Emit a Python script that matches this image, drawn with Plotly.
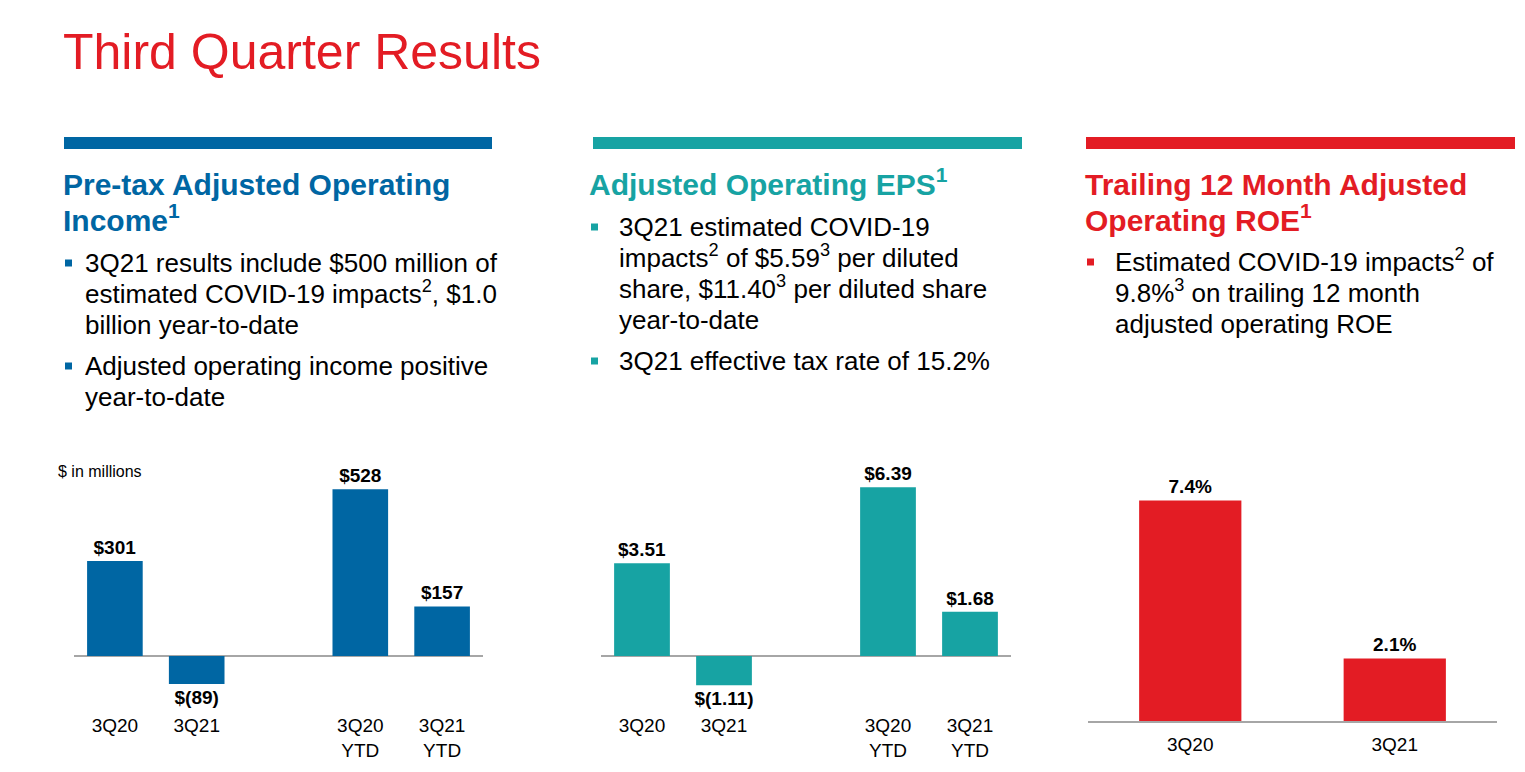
import plotly.graph_objects as go

W, H = 1525, 772
PAGE_MARGIN = 8  # browser body margin around the plot div

BLUE = "#0066a3"
TEAL = "#17a3a3"
RED = "#e31c24"
AXIS_GREY = "#a6a6a6"
FONT = "Liberation Sans, Arial, sans-serif"

# --- data ---
income_slots = ["3Q20", "3Q21", " ", "3Q20<br>YTD", "3Q21<br>YTD"]
income_periods = ["3Q20", "3Q21", "3Q20<br>YTD", "3Q21<br>YTD"]
income_values = [301, -89, 528, 157]
income_labels = ["$301", "$(89)", "$528", "$157"]

eps_periods = ["3Q20", "3Q21", "3Q20<br>YTD", "3Q21<br>YTD"]
eps_values = [3.51, -1.11, 6.39, 1.68]
eps_labels = ["$3.51", "$(1.11)", "$6.39", "$1.68"]

roe_periods = ["3Q20", "3Q21"]
roe_values = [7.4, 2.1]
roe_labels = ["7.4%", "2.1%"]

title_text = "Third Quarter Results"

headings = [
    ["Pre-tax Adjusted Operating", "Income<sup>1</sup>"],
    ["Adjusted Operating EPS<sup>1</sup>"],
    ["Trailing 12 Month Adjusted", "Operating ROE<sup>1</sup>"],
]
bullets = [
    [["3Q21 results include $500 million of",
      "estimated COVID-19 impacts<sup>2</sup>, $1.0",
      "billion year-to-date"],
     ["Adjusted operating income positive",
      "year-to-date"]],
    [["3Q21 estimated COVID-19",
      "impacts<sup>2</sup> of $5.59<sup>3</sup> per diluted",
      "share, $11.40<sup>3</sup> per diluted share",
      "year-to-date"],
     ["3Q21 effective tax rate of 15.2%"]],
    [["Estimated COVID-19 impacts<sup>2</sup> of",
      "9.8%<sup>3</sup> on trailing 12 month",
      "adjusted operating ROE"]],
]


def px(x):
    return (x - PAGE_MARGIN) / W


def py(y):
    return 1 - (y - PAGE_MARGIN) / H


def text_bottom(center, size):
    # anchor on the box bottom so superscripts don't push the line down
    return py(center + 0.56 * size + 2.5)


# panel layout in pixels: rule bar, heading, bullets, chart box
panels = [
    dict(color=BLUE, rule=(64, 492), head_x=64, text_x=85, bullet_y=263,
         chart=(74, 483), top=470, bottom=712, zero=656, scale=0.316),
    dict(color=TEAL, rule=(593, 1022), head_x=590, text_x=619, bullet_y=227,
         chart=(601, 1011), top=470, bottom=712, zero=656, scale=26.4),
    dict(color=RED, rule=(1086, 1515), head_x=1086, text_x=1115, bullet_y=262,
         chart=(1088, 1497), top=470, bottom=721, zero=721, scale=29.8),
]

fig = go.Figure()

series = [
    (income_periods, income_values, income_labels, 0.68),
    (eps_periods, eps_values, eps_labels, 0.68),
    (roe_periods, roe_values, roe_labels, 0.5),
]
for i, (xs, ys, labels, width) in enumerate(series):
    suffix = "" if i == 0 else str(i + 1)
    fig.add_trace(go.Bar(
        x=xs, y=ys, text=labels, width=width,
        marker=dict(color=panels[i]["color"], line=dict(width=0)),
        textposition="outside", cliponaxis=False, constraintext="none",
        textfont=dict(family=FONT, size=19, color="black", weight="bold"),
        hoverinfo="skip", showlegend=False,
        xaxis="x" + suffix, yaxis="y" + suffix,
    ))

layout_axes = {}
for i, p in enumerate(panels):
    suffix = "" if i == 0 else str(i + 1)
    slots = income_slots if i < 2 else roe_periods
    ymin = -(p["bottom"] - p["zero"]) / p["scale"]
    ymax = (p["zero"] - p["top"]) / p["scale"]
    layout_axes["xaxis" + suffix] = dict(
        domain=[px(p["chart"][0]), px(p["chart"][1])],
        anchor="y" + suffix, type="category",
        categoryorder="array", categoryarray=slots,
        range=[-0.5, len(slots) - 0.5],
        showgrid=False, zeroline=False, ticks="",
        showline=(i == 2), linecolor=AXIS_GREY, linewidth=2,
        ticklabelstandoff=5 if i == 2 else 0,
        tickfont=dict(family=FONT, size=19, color="black"),
        fixedrange=True,
    )
    layout_axes["yaxis" + suffix] = dict(
        domain=[py(p["bottom"]), py(p["top"])],
        anchor="x" + suffix, range=[ymin, ymax],
        showgrid=False, showticklabels=False, ticks="",
        zeroline=(i < 2), zerolinecolor=AXIS_GREY, zerolinewidth=2,
        fixedrange=True,
    )

shapes = []
annotations = [dict(
    text=title_text, x=px(61), y=py(52), xref="paper", yref="paper",
    xanchor="left", yanchor="middle", showarrow=False,
    font=dict(family=FONT, size=50, color=RED),
)]

for i, p in enumerate(panels):
    shapes.append(dict(
        type="rect", xref="paper", yref="paper",
        x0=px(p["rule"][0]), x1=px(p["rule"][1]), y0=py(149), y1=py(137),
        fillcolor=p["color"], line=dict(width=0),
    ))
    for j, line in enumerate(headings[i]):
        annotations.append(dict(
            text=line, x=px(p["head_x"] - 3), y=text_bottom(183.5 + 36 * j, 30),
            xref="paper", yref="paper", xanchor="left", yanchor="bottom",
            showarrow=False,
            font=dict(family=FONT, size=30, color=p["color"], weight="bold"),
        ))
    y = p["bullet_y"]
    for para in bullets[i]:
        bx = p["head_x"] + 1
        shapes.append(dict(
            type="rect", xref="paper", yref="paper",
            x0=px(bx), x1=px(bx + 7), y0=py(y + 3.5), y1=py(y - 3.5),
            fillcolor=p["color"], line=dict(width=0),
        ))
        for line in para:
            annotations.append(dict(
                text=line, x=px(p["text_x"] - 2), y=text_bottom(y, 26),
                xref="paper", yref="paper", xanchor="left", yanchor="bottom",
                showarrow=False,
                font=dict(family=FONT, size=26, color="black"),
            ))
            y += 31
        y += 10

annotations.append(dict(
    text="$ in millions", x=px(56), y=py(471), xref="paper", yref="paper",
    xanchor="left", yanchor="middle", showarrow=False,
    font=dict(family=FONT, size=16, color="black"),
))

fig.update_layout(
    width=W, height=H, autosize=False,
    margin=dict(l=0, r=0, t=0, b=0),
    paper_bgcolor="white", plot_bgcolor="white",
    font=dict(family=FONT),
    shapes=shapes, annotations=annotations,
    **layout_axes,
)

fig.write_html("out.html", config=dict(displayModeBar=False))
